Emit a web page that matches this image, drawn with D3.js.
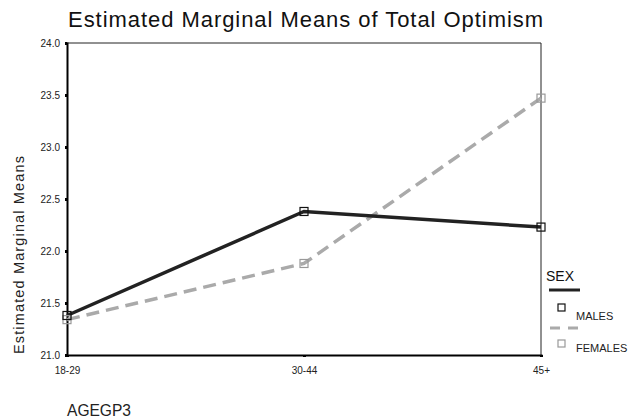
<!DOCTYPE html>
<html><head><meta charset="utf-8">
<script src="https://cdn.jsdelivr.net/npm/d3@7"></script>
<style>body{margin:0;background:#fff;} text{font-family:"Liberation Sans",Arial,sans-serif;}</style>
</head><body>
<svg id="c" width="632" height="419"></svg>
<script>
const categories = ["18-29", "30-44", "45+"];
const males = [21.38, 22.38, 22.23];
const females = [21.34, 21.88, 23.47];
const yTicks = [21.0, 21.5, 22.0, 22.5, 23.0, 23.5, 24.0];
const seriesNames = ["MALES", "FEMALES"];

const svg = d3.select("#c");
const L = 67, R = 541, T = 43, B = 355;
const x = d3.scalePoint().domain(categories).range([L, R]).padding(0);
const y = d3.scaleLinear().domain([21, 24]).range([B, T]);

// title
svg.append("text").attr("x", 68).attr("y", 27)
  .attr("font-size", 22).attr("fill", "#111")
  .style("font-family", "'Liberation Sans Narrow', 'Liberation Sans', Arial, sans-serif")
  .attr("textLength", 475).attr("lengthAdjust", "spacing")
  .text("Estimated Marginal Means of Total Optimism");

// frame top/right
svg.append("line").attr("x1", L).attr("x2", R).attr("y1", T).attr("y2", T).attr("stroke", "#222").attr("stroke-width", 1);
svg.append("line").attr("x1", R).attr("x2", R).attr("y1", T).attr("y2", B).attr("stroke", "#222").attr("stroke-width", 1);

// axes
const yAxis = d3.axisLeft(y).tickValues(yTicks).tickFormat(d3.format(".1f")).tickSize(2).tickPadding(5);
const gy = svg.append("g").attr("transform", `translate(${L},0)`).call(yAxis);
gy.select(".domain").attr("stroke", "#000").attr("stroke-width", 2);
gy.selectAll(".tick line").attr("stroke", "#000").attr("stroke-width", 3);
gy.selectAll(".tick text").attr("font-size", 10).attr("fill", "#222").attr("font-family", "Liberation Sans, Arial, sans-serif");

const xAxis = d3.axisBottom(x).tickSize(2).tickPadding(10);
const gx = svg.append("g").attr("transform", `translate(0,${B})`).call(xAxis);
gx.select(".domain").attr("stroke", "#000").attr("stroke-width", 2);
gx.selectAll(".tick line").attr("stroke", "#000").attr("stroke-width", 3);
gx.selectAll(".tick text").attr("font-size", 10).attr("fill", "#222").attr("font-family", "Liberation Sans, Arial, sans-serif");

// axis titles
svg.append("text").attr("transform", "translate(24,255) rotate(-90)").attr("text-anchor", "middle")
  .attr("font-size", 14.5).attr("fill", "#222")
  .attr("textLength", 198).attr("lengthAdjust", "spacing")
  .text("Estimated Marginal Means");
svg.append("text").attr("x", 67).attr("y", 416).attr("font-size", 16).attr("fill", "#222")
  .attr("textLength", 64).attr("lengthAdjust", "spacingAndGlyphs").text("AGEGP3");

// lines
const line = d3.line().x((d, i) => x(categories[i])).y(d => y(d));
svg.append("path").datum(females).attr("d", line).attr("fill", "none")
  .attr("stroke", "#aaa").attr("stroke-width", 3.5).attr("stroke-dasharray", "13,7");
svg.append("path").datum(males).attr("d", line).attr("fill", "none")
  .attr("stroke", "#222").attr("stroke-width", 3.5);

function markers(data, color) {
  svg.append("g").selectAll("rect").data(data).join("rect")
    .attr("x", (d, i) => x(categories[i]) - 4).attr("y", d => y(d) - 4)
    .attr("width", 8).attr("height", 8).attr("fill", "none")
    .attr("stroke", color).attr("stroke-width", 1.2);
}
markers(females, "#999");
markers(males, "#111");

// legend
const lg = svg.append("g");
lg.append("text").attr("x", 546).attr("y", 281).attr("font-size", 14).attr("fill", "#111").text("SEX");
lg.append("line").attr("x1", 549).attr("x2", 580).attr("y1", 290).attr("y2", 290).attr("stroke", "#222").attr("stroke-width", 3);
lg.append("rect").attr("x", 558).attr("y", 304).attr("width", 7).attr("height", 7).attr("fill", "none").attr("stroke", "#111").attr("stroke-width", 1.2);
lg.append("text").attr("x", 576).attr("y", 320).attr("font-size", 11).attr("fill", "#222").text(seriesNames[0]);
lg.append("line").attr("x1", 550).attr("x2", 580).attr("y1", 328).attr("y2", 328).attr("stroke", "#aaa").attr("stroke-width", 3).attr("stroke-dasharray", "10,8");
lg.append("rect").attr("x", 558).attr("y", 340).attr("width", 7).attr("height", 7).attr("fill", "none").attr("stroke", "#999").attr("stroke-width", 1.2);
lg.append("text").attr("x", 576).attr("y", 352).attr("font-size", 11).attr("fill", "#222").text(seriesNames[1]);
</script>
</body></html>
